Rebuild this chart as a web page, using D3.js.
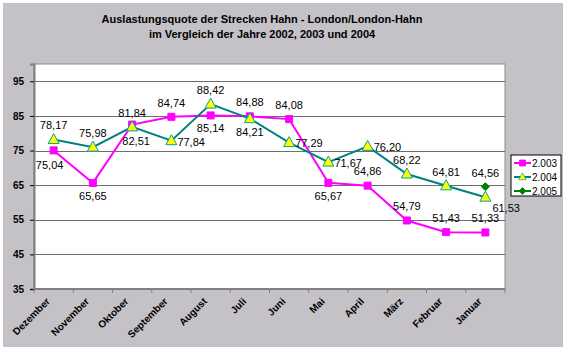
<!DOCTYPE html>
<html>
<head>
<meta charset="utf-8">
<script src="https://cdn.jsdelivr.net/npm/d3@7"></script>
<style>
  body { margin: 0; background: #fff; }
  text { font-family: Arial, "Liberation Sans", sans-serif; }
</style>
</head>
<body>
<div id="chart"></div>
<script>
const months = ["Dezember", "November", "Oktober", "September", "August", "Juli",
    "Juni", "Mai", "April", "März", "Februar", "Januar"];
const values2003 = [75.04, 65.65, 82.51, 84.74, 85.14, 84.88, 84.08, 65.67, 64.86, 54.79, 51.43, 51.33];
const values2004 = [78.17, 75.98, 81.84, 77.84, 88.42, 84.21, 77.29, 71.67, 76.20, 68.22, 64.81, 61.53];
const values2005 = [null, null, null, null, null, null, null, null, null, null, null, 64.56];
const yTicks = [35, 45, 55, 65, 75, 85, 95];
const seriesNames = ["2.003", "2.004", "2.005"];
// where each data label sits relative to its point
const labelPos2003 = ["bl", "b", "b2", "a", "b", "a", "a", "b", "a", "a", "a", "a"];
const labelPos2004 = ["a", "a", "a", "r", "a", "b", "r", "r", "r", "a", "a", "br"];
const labelPos2005 = ["a", "a", "a", "a", "a", "a", "a", "a", "a", "a", "a", "a"];

const width = 567, height = 352;
const marginLeft = 34, marginRight = 62, marginTop = 64, marginBottom = 63;

const svg = d3.select("#chart").append("svg")
    .attr("width", width)
    .attr("height", height);

svg.append("rect")
    .attr("x", 3).attr("y", 3)
    .attr("width", 560).attr("height", 344)
    .attr("fill", "#c4c2c6");

svg.append("text")
    .attr("x", 262).attr("y", 23)
    .attr("text-anchor", "middle")
    .attr("font-size", 11).attr("font-weight", "bold")
    .text("Auslastungsquote der Strecken Hahn - London/London-Hahn");
svg.append("text")
    .attr("x", 262).attr("y", 38)
    .attr("text-anchor", "middle")
    .attr("font-size", 11).attr("font-weight", "bold")
    .text("im Vergleich der Jahre 2002, 2003 und 2004");

const x = d3.scaleBand()
    .domain(months)
    .range([marginLeft, width - marginRight]);
const cx = d => x(d) + x.bandwidth() / 2;

const y = d3.scaleLinear()
    .domain([35, 100])
    .range([height - marginBottom, marginTop]);

// plot area
svg.append("rect")
    .attr("x", marginLeft).attr("y", marginTop)
    .attr("width", width - marginRight - marginLeft)
    .attr("height", height - marginBottom - marginTop)
    .attr("fill", "#fff")
    .attr("stroke", "#8c8c8c");

svg.append("g")
    .selectAll("line")
    .data(yTicks.slice(1))
    .join("line")
    .attr("x1", marginLeft).attr("x2", width - marginRight)
    .attr("y1", d => Math.round(y(d)) + 0.5).attr("y2", d => Math.round(y(d)) + 0.5)
    .attr("stroke", "#6e6e6e");

// y axis
svg.append("g")
    .attr("transform", `translate(${marginLeft},0)`)
    .call(d3.axisLeft(y).tickValues(yTicks).tickSize(4).tickPadding(6))
    .call(g => g.select(".domain").attr("stroke", "#808080").attr("stroke-width", 2))
    .call(g => g.selectAll(".tick line").attr("stroke", "#000"))
    .call(g => g.selectAll(".tick text")
        .attr("font-size", 10).attr("font-weight", "bold")
        .attr("font-family", "Arial, 'Liberation Sans', sans-serif"));

// x axis
const xAxis = svg.append("g")
    .attr("transform", `translate(0,${height - marginBottom})`);
xAxis.append("line")
    .attr("x1", marginLeft).attr("x2", width - marginRight)
    .attr("stroke", "#808080").attr("stroke-width", 2);
xAxis.selectAll(".tk")
    .data(months.concat([null]))
    .join("line")
    .attr("class", "tk")
    .attr("x1", (d, i) => marginLeft + i * x.step())
    .attr("x2", (d, i) => marginLeft + i * x.step())
    .attr("y1", 0).attr("y2", 4)
    .attr("stroke", "#808080");
xAxis.selectAll("text")
    .data(months)
    .join("text")
    .attr("transform", d => `translate(${cx(d) - 3},${13}) rotate(-45)`)
    .attr("text-anchor", "end")
    .attr("font-size", 10).attr("font-weight", "bold")
    .text(d => d);

function drawSeries(values, color, marker, positions) {
    const pts = months.map((m, i) => ({ m: m, v: values[i], p: positions[i] }))
        .filter(d => d.v != null);

    const line = d3.line().x(d => cx(d.m)).y(d => y(d.v));
    svg.append("path")
        .datum(pts)
        .attr("fill", "none")
        .attr("stroke", color.line)
        .attr("stroke-width", 2)
        .attr("d", line);

    svg.append("g")
        .selectAll("path")
        .data(pts)
        .join("path")
        .attr("transform", d => `translate(${cx(d.m)},${y(d.v)})`)
        .attr("d", marker)
        .attr("fill", color.fill)
        .attr("stroke", color.stroke)
        .attr("stroke-width", 1);

    const off = {
        a: [0, -14, "middle"],
        b: [0, 13, "middle"],
        b2: [4, 17, "middle"],
        bl: [-4, 15, "middle"],
        r: [6, 1, "start"],
        br: [7, 11, "start"]
    };
    svg.append("g")
        .selectAll("text")
        .data(pts)
        .join("text")
        .attr("x", d => cx(d.m) + off[d.p][0])
        .attr("y", d => y(d.v) + off[d.p][1])
        .attr("dy", "0.35em")
        .attr("text-anchor", d => off[d.p][2])
        .attr("font-size", 11)
        .text(d => d3.format(".2f")(d.v).replace(".", ","));
}

const square = "M-3.5,-3.5H3.5V3.5H-3.5Z";
const triangle = "M0,-6L5.5,4H-5.5Z";
const diamond = "M0,-4L4,0L0,4L-4,0Z";

const styles = [
    { line: "#ff00ff", fill: "#ff00ff", stroke: "#ff00ff" },
    { line: "#008080", fill: "#ffff00", stroke: "#00a0a0" },
    { line: "#008000", fill: "#008000", stroke: "#008000" }
];
const markers = [square, triangle, diamond];

drawSeries(values2003, styles[0], square, labelPos2003);
drawSeries(values2004, styles[1], triangle, labelPos2004);
drawSeries(values2005, styles[2], diamond, labelPos2005);

// legend
const legend = svg.append("g").attr("transform", "translate(511,155)");
legend.append("rect")
    .attr("width", 50).attr("height", 41)
    .attr("fill", "#fff").attr("stroke", "#000");
const item = legend.selectAll(".item")
    .data(seriesNames)
    .join("g")
    .attr("class", "item")
    .attr("transform", (d, i) => `translate(0,${8 + i * 14})`);
item.append("line")
    .attr("x1", 3).attr("x2", 20)
    .attr("stroke", (d, i) => styles[i].line)
    .attr("stroke-width", 2);
item.append("path")
    .attr("transform", (d, i) => `translate(11.5,0) scale(${i === 1 ? 0.7 : 0.85})`)
    .attr("d", (d, i) => markers[i])
    .attr("fill", (d, i) => styles[i].fill)
    .attr("stroke", (d, i) => styles[i].stroke);
item.append("text")
    .attr("x", 21).attr("dy", "0.35em")
    .attr("font-size", 10)
    .text(d => d);
</script>
</body>
</html>
